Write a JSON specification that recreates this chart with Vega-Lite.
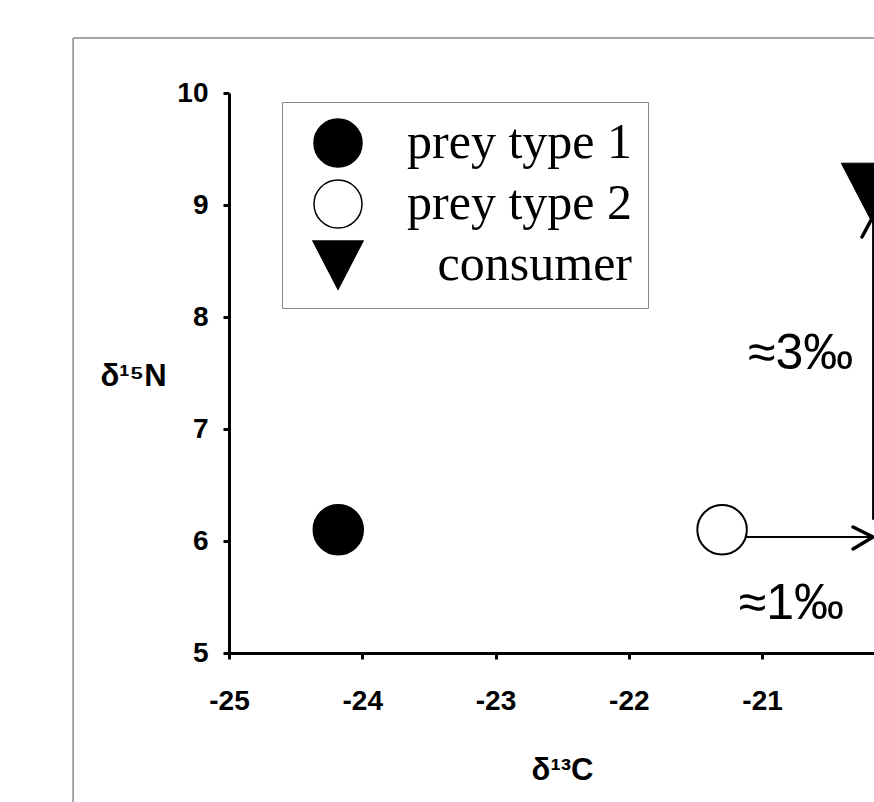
{
  "$schema": "https://vega.github.io/schema/vega-lite/v6.json",
  "width": 645,
  "height": 560,
  "autosize": {"type": "none"},
  "padding": {"left": 229, "top": 93, "right": 0, "bottom": 149},
  "background": "white",
  "config": {
    "view": {"stroke": null},
    "axis": {
      "labelFont": "Liberation Sans",
      "labelFontWeight": "bold",
      "labelFontSize": 28,
      "labelColor": "black",
      "labelFlush": false,
      "titleFont": "Liberation Sans",
      "titleFontWeight": "bold",
      "titleFontSize": 31,
      "titleColor": "black",
      "domainColor": "black",
      "domainWidth": 3,
      "tickColor": "black",
      "tickWidth": 3,
      "tickSize": 6,
      "grid": false
    },
    "legend": {
      "strokeColor": "#898989",
      "fillColor": "white",
      "padding": 16,
      "symbolSize": 2304,
      "symbolStrokeColor": "black",
      "symbolStrokeWidth": 1.5,
      "symbolOffset": 15,
      "labelFont": "Liberation Serif",
      "labelFontSize": 50,
      "labelColor": "black",
      "labelAlign": "right",
      "labelBaseline": "middle",
      "labelOffset": 269,
      "labelLimit": 500,
      "rowPadding": 7
    }
  },
  "datasets": {
    "prey": [
      {"d13C": -24.18, "d15N": 6.1, "kind": "prey type 1"},
      {"d13C": -21.3, "d15N": 6.1, "kind": "prey type 2"}
    ],
    "consumer": [
      {"d13C": -20.175, "d15N": 9.11, "kind": "consumer"}
    ],
    "arrowLines": [
      {"xa": -21.12, "ya": 6.036, "xb": -20.167, "yb": 6.036},
      {"xa": -20.167, "ya": 6.19, "xb": -20.167, "yb": 8.89}
    ],
    "arrowHeads": [
      {"arrow": "h", "seq": 1, "x": -20.317, "y": 6.125},
      {"arrow": "h", "seq": 2, "x": -20.167, "y": 6.036},
      {"arrow": "h", "seq": 3, "x": -20.317, "y": 5.929},
      {"arrow": "v", "seq": 1, "x": -20.25, "y": 8.714},
      {"arrow": "v", "seq": 2, "x": -20.167, "y": 8.9},
      {"arrow": "v", "seq": 3, "x": -20.085, "y": 8.714}
    ],
    "notes": [
      {"x": -20.71, "y": 7.67, "text": "≈3‰"},
      {"x": -20.78, "y": 5.44, "text": "≈1‰"}
    ]
  },
  "layer": [
    {
      "data": {"values": [{}]},
      "mark": {"type": "rule", "color": "#898989", "strokeWidth": 1.5, "clip": false},
      "encoding": {
        "x": {"datum": -26.17, "type": "quantitative", "scale": {"domain": [-25, -20.16], "nice": false, "zero": false}},
        "y": {"datum": 10.49, "type": "quantitative", "scale": {"domain": [5, 10], "nice": false, "zero": false}},
        "y2": {"datum": 3}
      }
    },
    {
      "data": {"values": [{}]},
      "mark": {"type": "rule", "color": "#898989", "strokeWidth": 1.5, "clip": false},
      "encoding": {
        "x": {"datum": -26.17, "type": "quantitative"},
        "x2": {"datum": -19},
        "y": {"datum": 10.49, "type": "quantitative"}
      }
    },
    {
      "data": {"name": "arrowLines"},
      "mark": {"type": "rule", "color": "black", "strokeWidth": 2},
      "encoding": {
        "x": {"field": "xa", "type": "quantitative"},
        "x2": {"field": "xb"},
        "y": {"field": "ya", "type": "quantitative"},
        "y2": {"field": "yb"}
      }
    },
    {
      "data": {"name": "arrowHeads"},
      "mark": {"type": "line", "color": "black", "strokeWidth": 3.5, "strokeCap": "round", "strokeJoin": "round"},
      "encoding": {
        "x": {"field": "x", "type": "quantitative"},
        "y": {"field": "y", "type": "quantitative"},
        "detail": {"field": "arrow"},
        "order": {"field": "seq"}
      }
    },
    {
      "data": {"name": "prey"},
      "mark": {"type": "point", "filled": true, "size": 2450, "strokeWidth": 2, "opacity": 1},
      "encoding": {
        "x": {"field": "d13C", "type": "quantitative", "title": "δ¹³C",
          "axis": {"values": [-25, -24, -23, -22, -21], "labelExpr": "'' + datum.value", "labelPadding": 28, "titleX": 333, "titleY": 126, "titleBaseline": "alphabetic"}},
        "y": {"field": "d15N", "type": "quantitative", "title": "δ¹⁵N",
          "axis": {"values": [5, 6, 7, 8, 9, 10], "labelExpr": "'' + datum.value", "labelPadding": 15, "titleAngle": 0, "titleX": -96, "titleY": 283, "titleAlign": "center", "titleBaseline": "middle"}},
        "shape": {"field": "kind", "type": "nominal",
          "scale": {"domain": ["prey type 1", "prey type 2", "consumer"], "range": ["circle", "circle", "M-1.04,-1L1.04,-1L0,1Z"]},
          "legend": {"title": null, "orient": "none", "legendX": 53, "legendY": 9}},
        "fill": {"field": "kind", "type": "nominal",
          "scale": {"domain": ["prey type 1", "prey type 2", "consumer"], "range": ["black", "white", "black"]},
          "legend": {"title": null, "orient": "none", "legendX": 53, "legendY": 9}},
        "stroke": {"field": "kind", "type": "nominal",
          "scale": {"domain": ["prey type 1", "prey type 2", "consumer"], "range": ["black", "black", "black"]},
          "legend": {"title": null, "orient": "none", "legendX": 53, "legendY": 9}}
      }
    },
    {
      "data": {"name": "consumer"},
      "mark": {"type": "point", "filled": true, "size": 3481, "strokeWidth": 1, "opacity": 1},
      "encoding": {
        "x": {"field": "d13C", "type": "quantitative"},
        "y": {"field": "d15N", "type": "quantitative"},
        "shape": {"field": "kind", "type": "nominal"},
        "fill": {"field": "kind", "type": "nominal"},
        "stroke": {"field": "kind", "type": "nominal"}
      }
    },
    {
      "data": {"name": "notes"},
      "mark": {"type": "text", "font": "Liberation Sans", "fontSize": 50, "color": "black", "align": "center", "baseline": "middle"},
      "encoding": {
        "x": {"field": "x", "type": "quantitative"},
        "y": {"field": "y", "type": "quantitative"},
        "text": {"field": "text"}
      }
    }
  ]
}
